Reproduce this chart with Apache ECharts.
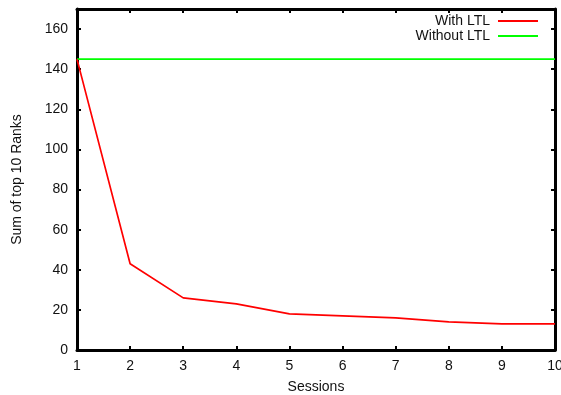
<!DOCTYPE html>
<html>
<head>
<meta charset="utf-8">
<style>
  html, body { margin: 0; padding: 0; background: #fff; }
  #chart { width: 561px; height: 395px; }
</style>
<script src="https://cdn.jsdelivr.net/npm/echarts@6/dist/echarts.min.js"></script>
</head>
<body>
<div id="chart"></div>
<script>
// Sessions on the x axis
const sessions = [1, 2, 3, 4, 5, 6, 7, 8, 9, 10];
// Sum of top 10 ranks per session
const withLTL = [145, 43, 26, 23, 18, 17, 16, 14, 13, 13];
const withoutLTL = [145, 145, 145, 145, 145, 145, 145, 145, 145, 145];
const yTicks = [0, 20, 40, 60, 80, 100, 120, 140, 160];

const font = 'Liberation Sans, Arial, Helvetica, sans-serif';
const textColor = '#111';
const fontSize = 14;

const pairs = (xs, ys) => xs.map((x, i) => [x, ys[i]]);

const frameLine = { show: true, onZero: false, lineStyle: { color: '#000', width: 3 } };
const ticksIn = { show: true, inside: true, length: 4, lineStyle: { color: '#000', width: 2 } };

const legendItem = (name, top) => ({
  data: [name], right: 23, top: top, align: 'right', orient: 'vertical', padding: 0,
  icon: 'rect', itemWidth: 40, itemHeight: 2, itemGap: 0,
  textStyle: { fontFamily: font, fontSize: fontSize, color: textColor, padding: [0, 3, 0, 0] }
});

const chart = echarts.init(document.getElementById('chart'), null, { renderer: 'canvas' });

chart.setOption({
  animation: false,
  backgroundColor: '#fff',
  grid: { left: 77, right: 6, top: 9, bottom: 45, containLabel: false, outerBoundsMode: 'none' },
  legend: [legendItem('With LTL', 14), legendItem('Without LTL', 29)],
  xAxis: [
    {
      type: 'value', min: sessions[0], max: sessions[sessions.length - 1], interval: 1,
      name: 'Sessions', nameLocation: 'middle', nameGap: 30,
      nameTextStyle: { fontFamily: font, fontSize: fontSize, color: textColor },
      axisLine: frameLine, axisTick: ticksIn, splitLine: { show: false },
      axisLabel: { fontFamily: font, fontSize: fontSize, color: textColor, margin: 9 }
    },
    {
      type: 'value', position: 'top', min: sessions[0], max: sessions[sessions.length - 1], interval: 1,
      axisLine: frameLine, axisTick: ticksIn, splitLine: { show: false },
      axisLabel: { show: false }
    }
  ],
  yAxis: [
    {
      type: 'value', min: 0, max: 170, interval: 20,
      name: 'Sum of top 10 Ranks', nameLocation: 'middle', nameGap: 53,
      nameTextStyle: { fontFamily: font, fontSize: fontSize, color: textColor },
      axisLine: frameLine, axisTick: ticksIn, splitLine: { show: false },
      axisLabel: {
        fontFamily: font, fontSize: fontSize, color: textColor, margin: 9,
        formatter: v => (yTicks.includes(v) ? String(v) : '')
      }
    },
    {
      type: 'value', position: 'right', min: 0, max: 170, interval: 20,
      axisLine: frameLine, axisTick: ticksIn, splitLine: { show: false },
      axisLabel: { show: false }
    }
  ],
  series: [
    {
      name: 'With LTL', type: 'line', data: pairs(sessions, withLTL),
      symbol: 'none', color: '#ff0000', lineStyle: { color: '#ff0000', width: 1.7 }, z: 3
    },
    {
      name: 'Without LTL', type: 'line', data: pairs(sessions, withoutLTL),
      symbol: 'none', color: '#00ff00', lineStyle: { color: '#00ff00', width: 1.7 }, z: 2
    }
  ]
});
</script>
</body>
</html>
